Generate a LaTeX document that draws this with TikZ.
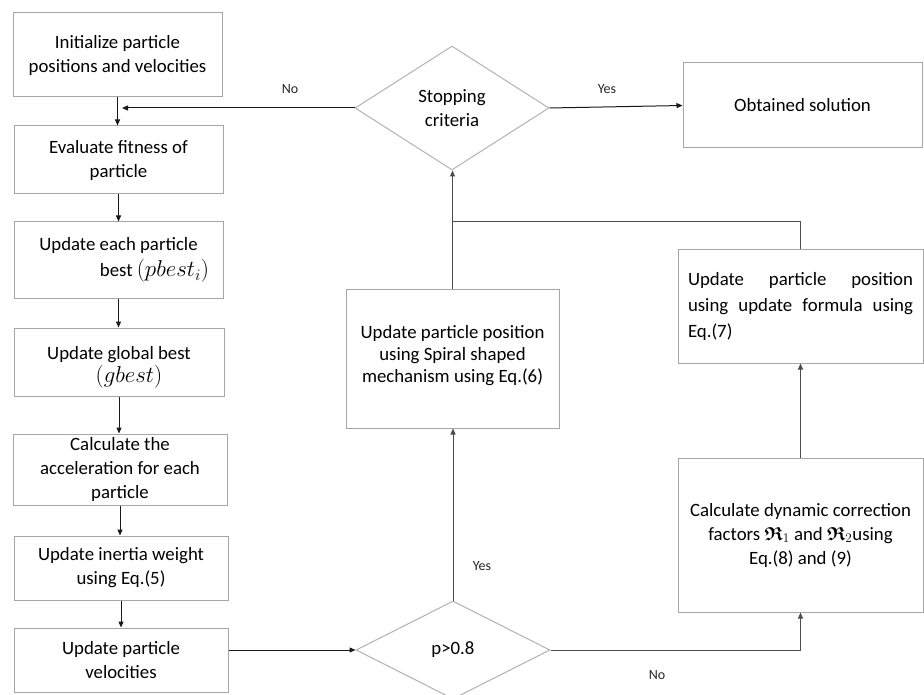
\RequirePackage{fix-cm}
\documentclass[tikz,border=0pt]{standalone}
\usepackage{amsmath,amssymb}
\usepackage{fontspec}
\setmainfont{Carlito}
\usetikzlibrary{shapes.geometric,arrows.meta}
\newcommand{\mainsz}{\fontsize{18.8}{24}\selectfont}
\newcommand{\labsz}{\fontsize{14}{16}\selectfont}
\newcommand{\bigmath}[1]{{\fontsize{23}{24}\selectfont$#1$}}
\begin{document}
\begin{tikzpicture}[x=1pt,y=-1pt,
  box/.style={draw=black!35, line width=1pt, rectangle, inner sep=0pt, align=center, font=\mainsz},
  dia/.style={draw=black!30, line width=1pt, diamond, inner sep=0pt, align=center, font=\mainsz},
  conn/.style={draw=black!90, line width=1pt, -{Triangle[length=6pt,width=5pt]}},
  connr/.style={draw=black!70, line width=1pt, -{Triangle[length=6pt,width=5pt]}},
  plain/.style={draw=black!70, line width=1pt},
  lab/.style={font=\labsz, inner sep=0pt, text=black!85}]
\fill[white] (0,0) rectangle (924,695);
\useasboundingbox (0,0) rectangle (924,695);

% left column
\node[box, minimum width=209pt, minimum height=84pt] (b1) at (117.5,55) {Initialize particle\\positions and velocities};
\node[box, minimum width=209pt, minimum height=68pt] (b2) at (118.5,160) {Evaluate fitness of\\particle};
\node[box, minimum width=209pt, minimum height=76pt] (b3) at (118.5,260) {Update each particle\\[2pt]\hspace*{72pt}best \bigmath{(pbest_i)}};
\node[box, minimum width=210pt, minimum height=68pt] (b4) at (119,362) {\mbox{}\\[0pt]Update global best\\[-1pt]\hspace*{20pt}\bigmath{(gbest)}};
\node[box, minimum width=214pt, minimum height=71pt] (b5) at (120,469.5) {Calculate the\\acceleration for each\\particle};
\node[box, minimum width=214pt, minimum height=64pt] (b6) at (121,568) {Update inertia weight\\using Eq.(5)};
\node[box, minimum width=214pt, minimum height=64pt] (b7) at (121,660) {Update particle\\velocities};

% decisions
\node[dia, minimum width=194pt, minimum height=124pt] (stop) at (452,108) {Stopping\\criteria};
\node[dia, minimum width=194pt, minimum height=98pt] (pd) at (453,650) {p>0.8};

% right side
\node[box, minimum width=239pt, minimum height=85pt] (obt) at (802.5,105.5) {Obtained solution};
\node[box, minimum width=213pt, minimum height=139pt] (sp) at (452.5,358.5) {Update particle position\\[-2pt]using Spiral shaped\\[-2pt]mechanism using Eq.(6)\\[-14pt]\mbox{}};
\node[draw=black!35, line width=1pt, text width=225pt, inner xsep=10pt, inner ysep=0pt, minimum height=113pt, align=justify, font=\fontsize{18.8}{26}\selectfont] (eq7) at (800.5,306.5) {Update particle position\linebreak using update formula using\linebreak Eq.(7)};
\node[box, minimum width=245pt, minimum height=154pt] (calc) at (800.5,535) {Calculate dynamic correction\\factors $\boldsymbol{\mathfrak{R}}_1$ and $\boldsymbol{\mathfrak{R}}_2$using\\Eq.(8) and (9)};

% labels
\node[lab] (lno1) at (290,89) {No};
\node[lab] (lyes1) at (607,89) {Yes};
\node[lab] (lyes2) at (482,566) {Yes};
\node[lab] (lno2) at (657,675) {No};

% connectors
\draw[conn] (b1.south) -- (b1.south |- b2.north);
\draw[conn] (b2.south) -- (b2.south |- b3.north);
\draw[conn] (b3.south) -- (b3.south |- b4.north);
\draw[conn] (b4.south) -- (b4.south |- b5.north);
\draw[conn] (b5.south) -- (b5.south |- b6.north);
\draw[conn] (b6.south) -- (b6.south |- b7.north);
\coordinate (nend) at (122,108);
\draw[conn] (stop.west) -- (nend);
\draw[conn] (stop.east) -- (obt.west);
\draw[conn] (b7.east |- pd.west) -- (pd.west);
\draw[connr] (pd.north) -- (pd.north |- sp.south);
\draw[connr] (pd.east) -| (calc.south);
\draw[connr] (calc.north) -- (calc.north |- eq7.south);
\coordinate (j) at (452,222);
\draw[plain] (eq7.north) |- (j);
\draw[connr] (sp.north) -- (sp.north |- stop.south);
\end{tikzpicture}
\end{document}
